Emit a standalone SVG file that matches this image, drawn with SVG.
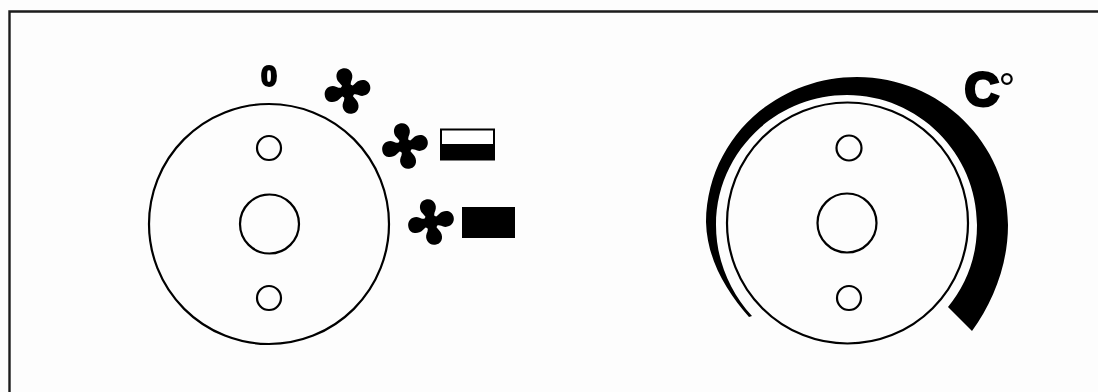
<svg xmlns="http://www.w3.org/2000/svg" width="1098" height="392" viewBox="0 0 1098 392">
  <style>
    .line { fill: none; stroke: #000; stroke-width: 2.2; }
    .ink { fill: #000; }
    .label { font-family: "Liberation Sans", Arial, sans-serif; font-weight: bold; fill: #000; stroke: #000; stroke-width: 2; }
  </style>
  <defs>
    <filter id="soft" x="-5%" y="-5%" width="110%" height="110%"><feGaussianBlur stdDeviation="0.5"/></filter>
    <path id="blade" d="M-3,2 C-3,-3 -5,-6 -8,-10 C-12,-15 -11,-24 -3,-25 C5,-26 9,-18 6,-12 C4,-9 4,-6 4,-2 Z"/>
    <g id="fan" class="ink">
      <circle r="8"/>
      <use href="#blade"/>
      <use href="#blade" transform="rotate(90)"/>
      <use href="#blade" transform="rotate(180)"/>
      <use href="#blade" transform="rotate(270)"/>
    </g>
  </defs>
  <rect width="1098" height="392" fill="#fdfdfd"/>
  <g filter="url(#soft)">
  <path id="frame" d="M9.5,392 V11.5 H1098" fill="none" stroke="#1a1a1a" stroke-width="2.4"/>
  <g id="fan-dial">
    <circle class="line" cx="269" cy="224" r="120"/>
    <circle class="line" cx="269.5" cy="224" r="29.5"/>
    <circle class="line" cx="269" cy="148" r="12"/>
    <circle class="line" cx="269" cy="298" r="12"/>
  </g>
  <g id="label-zero"><text class="label" x="269" y="86" font-size="29" text-anchor="middle">0</text></g>
  <g id="fan-1"><use href="#fan" transform="translate(347.5,91) scale(0.92) rotate(-6)"/></g>
  <g id="fan-2">
    <use href="#fan" transform="translate(405,146) scale(0.92) rotate(-6)"/>
    <rect x="441" y="129.5" width="53" height="30" fill="#fff" stroke="#000" stroke-width="2"/>
    <rect class="ink" x="440" y="144" width="54" height="16"/>
  </g>
  <g id="fan-3">
    <use href="#fan" transform="translate(431,222) scale(0.92) rotate(-6)"/>
    <rect class="ink" x="462" y="207" width="53" height="31"/>
  </g>
  <g id="temperature-dial">
    <circle class="line" cx="847.5" cy="223" r="120.5"/>
    <circle class="line" cx="847" cy="223" r="29.5"/>
    <circle class="line" cx="849" cy="148" r="12.5"/>
    <circle class="line" cx="849" cy="298" r="12"/>
    <path id="temperature-scale" class="ink" d="M749,317 C727,292 707,260 706,222 C707,140 775,77 857,77 C940,77 1008,143 1008,225 C1008,265 993,302 972,331 L948,307 C966,285 977,258 977,225 C977,153 918,95 847,95 C775,95 716,153 716,225 C716,260 730,292 752,316 Z"/>
  </g>
  <g id="label-celsius">
    <text class="label" x="964.5" y="106" font-size="48" style="stroke-width:3">C</text>
    <text x="998.5" y="103" font-size="42" font-family="'Liberation Sans', Arial, sans-serif" fill="#000">°</text>
  </g>
  </g>
</svg>
